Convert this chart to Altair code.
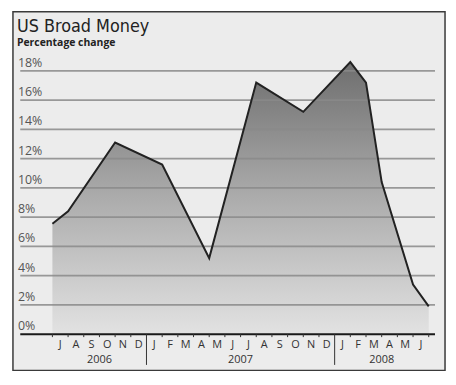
import altair as alt
import pandas as pd

# ---- data ----
# month index: 0 = start of Jul 2006 ... 24 = end of Jun 2008
month_index = [0, 1, 4, 7, 10, 13, 16, 19, 20, 21, 23, 24]
broad_money = [7.55, 8.4, 13.1, 11.6, 5.2, 17.2, 15.2, 18.6, 17.2, 10.4, 3.4, 1.9]

month_letters = ["J", "A", "S", "O", "N", "D",
                 "J", "F", "M", "A", "M", "J", "J", "A", "S", "O", "N", "D",
                 "J", "F", "M", "A", "M", "J"]
year_labels = ["2006", "2007", "2008"]
year_centers = [3, 12, 21]
year_breaks = [6, 18]
y_ticks = [0, 2, 4, 6, 8, 10, 12, 14, 16, 18]

# layout constants in data units
GRID_X0, GRID_X1, YLAB_X = -2.05, 24.4, -2.2
TICK_LEN, BREAK_LEN, MONTH_Y, YEAR_Y = -0.2, -2.1, -0.93, -1.95

df = pd.DataFrame({"i": month_index, "v": broad_money, "base": [0] * len(month_index)})
grid_df = pd.DataFrame({"v": [t for t in y_ticks if t > 0]})
grid_df["x0"], grid_df["x1"] = GRID_X0, GRID_X1
zero_df = pd.DataFrame({"v": [0], "x0": [GRID_X0], "x1": [GRID_X1]})
ylab_df = pd.DataFrame({"v": y_ticks, "label": [f"{t}%" for t in y_ticks]})
ylab_df["x"] = YLAB_X
mtick_df = pd.DataFrame({"i": [k for k in range(25) if k not in year_breaks]})
mtick_df["y0"], mtick_df["y1"] = 0, TICK_LEN
ybreak_df = pd.DataFrame({"i": year_breaks})
ybreak_df["y0"], ybreak_df["y1"] = 0, BREAK_LEN
mlab_df = pd.DataFrame({"c": [k + 0.5 for k in range(24)], "m": month_letters})
mlab_df["y"] = MONTH_Y
ylabel_df = pd.DataFrame({"c": year_centers, "t": year_labels})
ylabel_df["y"] = YEAR_Y

XS = alt.Scale(domain=[-2.516, 25.04], nice=False, zero=False)
YS = alt.Scale(domain=[-2.473, 22.05], nice=False, zero=False)
LABEL_FONT = "Open Sans"

def X(f):
    return alt.X(f, scale=XS, axis=None)

def Y(f):
    return alt.Y(f, scale=YS, axis=None)

area = alt.Chart(df).mark_area(
    interpolate="linear",
    color=alt.Gradient(
        gradient="linear",
        stops=[alt.GradientStop(color="#6e6e6e", offset=0),
               alt.GradientStop(color="#acacac", offset=0.5),
               alt.GradientStop(color="#e2e2e2", offset=1)],
        x1=0, x2=0, y1=0, y2=1),
).encode(x=X("i:Q"), y=Y("v:Q"), y2="base:Q")

grid = alt.Chart(grid_df).mark_rule(color="#8a8a8a", strokeWidth=1.8, opacity=0.85).encode(
    x=X("x0:Q"), x2="x1:Q", y=Y("v:Q"))

zero = alt.Chart(zero_df).mark_rule(color="#1a1a1a", strokeWidth=2).encode(
    x=X("x0:Q"), x2="x1:Q", y=Y("v:Q"))

line = alt.Chart(df).mark_line(color="#222222", strokeWidth=2).encode(
    x=X("i:Q"), y=Y("v:Q"))

ylabels = alt.Chart(ylab_df).mark_text(
    align="left", baseline="alphabetic", dy=-4, fontSize=12.5, color="#555555", font=LABEL_FONT
).encode(x=X("x:Q"), y=Y("v:Q"), text="label:N")

mticks = alt.Chart(mtick_df).mark_rule(color="#333333", strokeWidth=1).encode(
    x=X("i:Q"), y=Y("y0:Q"), y2="y1:Q")

ybreaks = alt.Chart(ybreak_df).mark_rule(color="#333333", strokeWidth=1).encode(
    x=X("i:Q"), y=Y("y0:Q"), y2="y1:Q")

mlabels = alt.Chart(mlab_df).mark_text(
    align="center", baseline="alphabetic", fontSize=11, color="#333333", font=LABEL_FONT
).encode(x=X("c:Q"), y=Y("y:Q"), text="m:N")

ylab2 = alt.Chart(ylabel_df).mark_text(
    align="center", baseline="alphabetic", fontSize=11, color="#333333", font=LABEL_FONT
).encode(x=X("c:Q"), y=Y("y:Q"), text="t:N")

title = alt.Chart(pd.DataFrame({"t": ["US Broad Money"]})).mark_text(
    align="left", baseline="alphabetic", fontSize=18, color="#222222",
    font="DejaVu Sans Condensed"
).encode(x=alt.value(4), y=alt.value(21), text="t:N")

subtitle = alt.Chart(pd.DataFrame({"t": ["Percentage change"]})).mark_text(
    align="left", baseline="alphabetic", fontSize=10.5, fontWeight="bold", color="#222222",
    font=LABEL_FONT
).encode(x=alt.value(4), y=alt.value(35), text="t:N")

chart = alt.layer(
    area, grid, zero, line, mticks, ybreaks, ylabels, mlabels, ylab2, title, subtitle
).properties(
    width=436, height=362,
    autosize=alt.AutoSizeParams(type="none"),
    padding={"left": 5, "top": 2, "right": 3, "bottom": 3},
    background="white",
).configure_view(fill="#ececec", stroke="#3a3a3a", strokeWidth=1.5)

chart.save("out.html", embed_options={"renderer": "svg", "actions": False})
